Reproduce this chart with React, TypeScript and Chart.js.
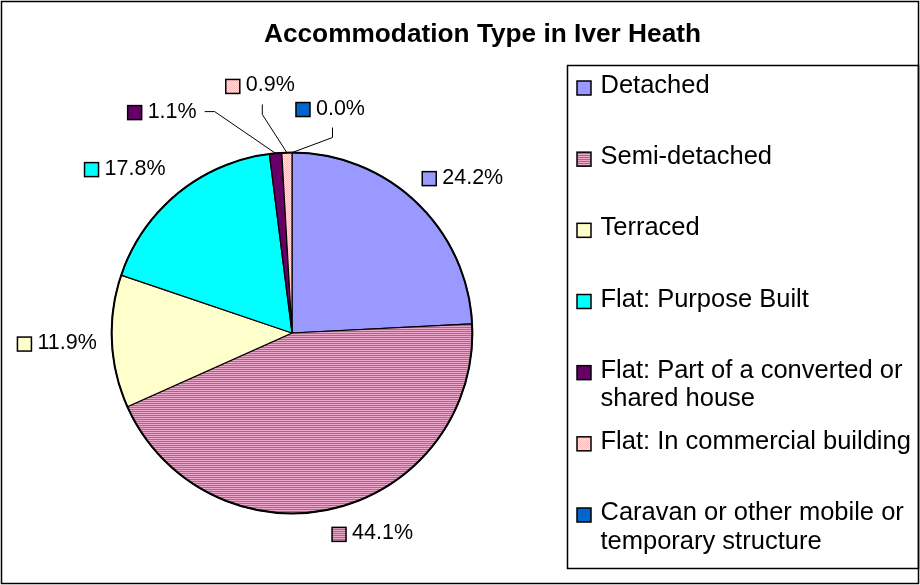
import React, { useEffect, useRef } from "react";
import { Chart, registerables } from "chart.js";

Chart.register(...registerables);

// ---- data ----
const TITLE = "Accommodation Type in Iver Heath";
const CATEGORIES = [
  "Detached",
  "Semi-detached",
  "Terraced",
  "Flat: Purpose Built",
  "Flat: Part of a converted or shared house",
  "Flat: In commercial building",
  "Caravan or other mobile or temporary structure",
];
const PERCENTAGES = [24.2, 44.1, 11.9, 17.8, 1.1, 0.9, 0.0];
const COLORS = ["#9999FF", "stripes", "#FFFFCC", "#00FFFF", "#660066", "checker", "#0066CC"];

// ---- layout of data labels (offsets of label start / baseline, in units of pie radius) ----
const LABEL_OFFSETS: [number, number][] = [
  [0.722, -0.828],
  [0.222, 1.144],
  [-1.522, 0.089],
  [-1.15, -0.878],
  [-0.911, -1.194],
  [-0.367, -1.339],
  [0.022, -1.211],
];

const FONT = '"Liberation Sans", Arial, sans-serif';

function makeStripe(): CanvasPattern | string {
  const c = document.createElement("canvas");
  c.width = 4;
  c.height = 2;
  const g = c.getContext("2d")!;
  g.fillStyle = "#EBA8CB";
  g.fillRect(0, 0, 4, 1);
  g.fillStyle = "#A9668E";
  g.fillRect(0, 1, 4, 1);
  const p = g.createPattern(c, "repeat");
  return p || "#CC88AA";
}

function makeChecker(): CanvasPattern | string {
  const c = document.createElement("canvas");
  c.width = 2;
  c.height = 2;
  const g = c.getContext("2d")!;
  g.fillStyle = "#FFE6E6";
  g.fillRect(0, 0, 2, 2);
  g.fillStyle = "#FFB8B8";
  g.fillRect(0, 0, 1, 1);
  g.fillRect(1, 1, 1, 1);
  const p = g.createPattern(c, "repeat");
  return p || "#FFCCCC";
}

function wrap(ctx: CanvasRenderingContext2D, text: string, maxW: number): string[] {
  const words = text.split(" ");
  const lines: string[] = [];
  let cur = "";
  for (const w of words) {
    const t = cur ? cur + " " + w : w;
    if (ctx.measureText(t).width > maxW && cur) {
      lines.push(cur);
      cur = w;
    } else cur = t;
  }
  if (cur) lines.push(cur);
  return lines;
}

function swatch(ctx: CanvasRenderingContext2D, x: number, y: number, s: number, fill: any) {
  ctx.fillStyle = fill;
  ctx.fillRect(x, y, s, s);
  ctx.lineWidth = 1.5;
  ctx.strokeStyle = "#000";
  ctx.strokeRect(x, y, s, s);
}

export default function App() {
  const ref = useRef<HTMLCanvasElement>(null);

  useEffect(() => {
    const canvas = ref.current!;
    const stripe = makeStripe();
    const checker = makeChecker();
    const fills = COLORS.map((c) => (c === "stripes" ? stripe : c === "checker" ? checker : c));

    const overlay = {
      id: "overlay",
      beforeDraw(chart: any) {
        const ctx = chart.ctx as CanvasRenderingContext2D;
        ctx.save();
        ctx.fillStyle = "#fff";
        ctx.fillRect(0, 0, chart.width, chart.height);
        ctx.restore();
      },
      afterDatasetsDraw(chart: any) {
        const ctx = chart.ctx as CanvasRenderingContext2D;
        const meta = chart.getDatasetMeta(0);
        const arcs = meta.data;
        const cx = arcs[0].x;
        const cy = arcs[0].y;
        const r = arcs[0].outerRadius;
        ctx.save();

        // outer outline of pie
        ctx.beginPath();
        ctx.arc(cx, cy, r, 0, Math.PI * 2);
        ctx.lineWidth = 2;
        ctx.strokeStyle = "#000";
        ctx.stroke();

        // chart border
        ctx.lineWidth = 1.5;
        ctx.strokeStyle = "#000";
        ctx.strokeRect(1.5, 1.5, 917, 582);

        // title
        ctx.fillStyle = "#000";
        ctx.font = `bold 25px ${FONT}`;
        ctx.textBaseline = "alphabetic";
        const tw = ctx.measureText(TITLE).width;
        const sx = 1.05;
        ctx.save();
        ctx.translate(482.5 - (tw * sx) / 2, 41.5);
        ctx.scale(sx, 1);
        ctx.textAlign = "left";
        ctx.fillText(TITLE, 0, 0);
        ctx.restore();

        // data labels
        ctx.font = `21.5px ${FONT}`;
        ctx.textAlign = "left";
        arcs.forEach((arc: any, i: number) => {
          const [ox, oy] = LABEL_OFFSETS[i];
          const x0 = cx + ox * r;
          const base = cy + oy * r;
          const text = PERCENTAGES[i].toFixed(1) + "%";
          const w = ctx.measureText(text).width;
          swatch(ctx, x0, base - 12, 14, fills[i]);
          ctx.fillStyle = "#000";
          ctx.fillText(text, x0 + 20, base);
          if (PERCENTAGES[i] < 2) {
            const mid = (arc.startAngle + arc.endAngle) / 2;
            const ax = cx + r * Math.cos(mid);
            const ay = cy + r * Math.sin(mid);
            const x1 = x0 + 20 + w;
            ctx.beginPath();
            ctx.lineWidth = 1;
            ctx.strokeStyle = "#000";
            if (x1 + 8 < ax - 30) {
              ctx.moveTo(x1 + 8, base - 6);
              ctx.lineTo(x1 + 18, base - 6);
            } else {
              const mx = (x0 + x1) / 2 + 2;
              ctx.moveTo(mx, base + 13);
              ctx.lineTo(mx, base + 23);
            }
            ctx.lineTo(ax, ay);
            ctx.stroke();
          }
        });

        // legend
        const lx0 = 567.5;
        const ly0 = 65.5;
        const lx1 = 918.5;
        const ly1 = 568.5;
        ctx.lineWidth = 1.5;
        ctx.strokeStyle = "#000";
        ctx.strokeRect(lx0, ly0, lx1 - lx0, ly1 - ly0);
        ctx.font = `25.5px ${FONT}`;
        const firstBase = 93;
        const lastBase = 520;
        const step = (lastBase - firstBase) / (CATEGORIES.length - 1);
        CATEGORIES.forEach((cat, i) => {
          const base = firstBase + i * step;
          swatch(ctx, 577, base - 12, 14, fills[i]);
          ctx.fillStyle = "#000";
          const lines = wrap(ctx, cat, 318);
          lines.forEach((ln, k) => ctx.fillText(ln, 600.5, base + k * 28.5));
        });

        ctx.restore();
      },
    };

    const chart = new Chart(canvas, {
      type: "pie",
      data: {
        labels: CATEGORIES,
        datasets: [
          {
            data: PERCENTAGES,
            backgroundColor: fills as any,
            borderColor: "#000",
            borderWidth: 1.2,
          },
        ],
      },
      options: {
        responsive: false,
        animation: false,
        devicePixelRatio: 1,
        events: [],
        layout: { padding: { left: 111, top: 152, right: 447, bottom: 71 } },
        plugins: {
          legend: { display: false },
          title: { display: false },
          tooltip: { enabled: false },
        },
      },
      plugins: [overlay],
    } as any);

    return () => chart.destroy();
  }, []);

  return (
    <div style={{ position: "absolute", left: 0, top: 0, width: 920, height: 585 }}>
      <canvas ref={ref} width={920} height={585} style={{ display: "block", width: 920, height: 585 }} />
    </div>
  );
}
